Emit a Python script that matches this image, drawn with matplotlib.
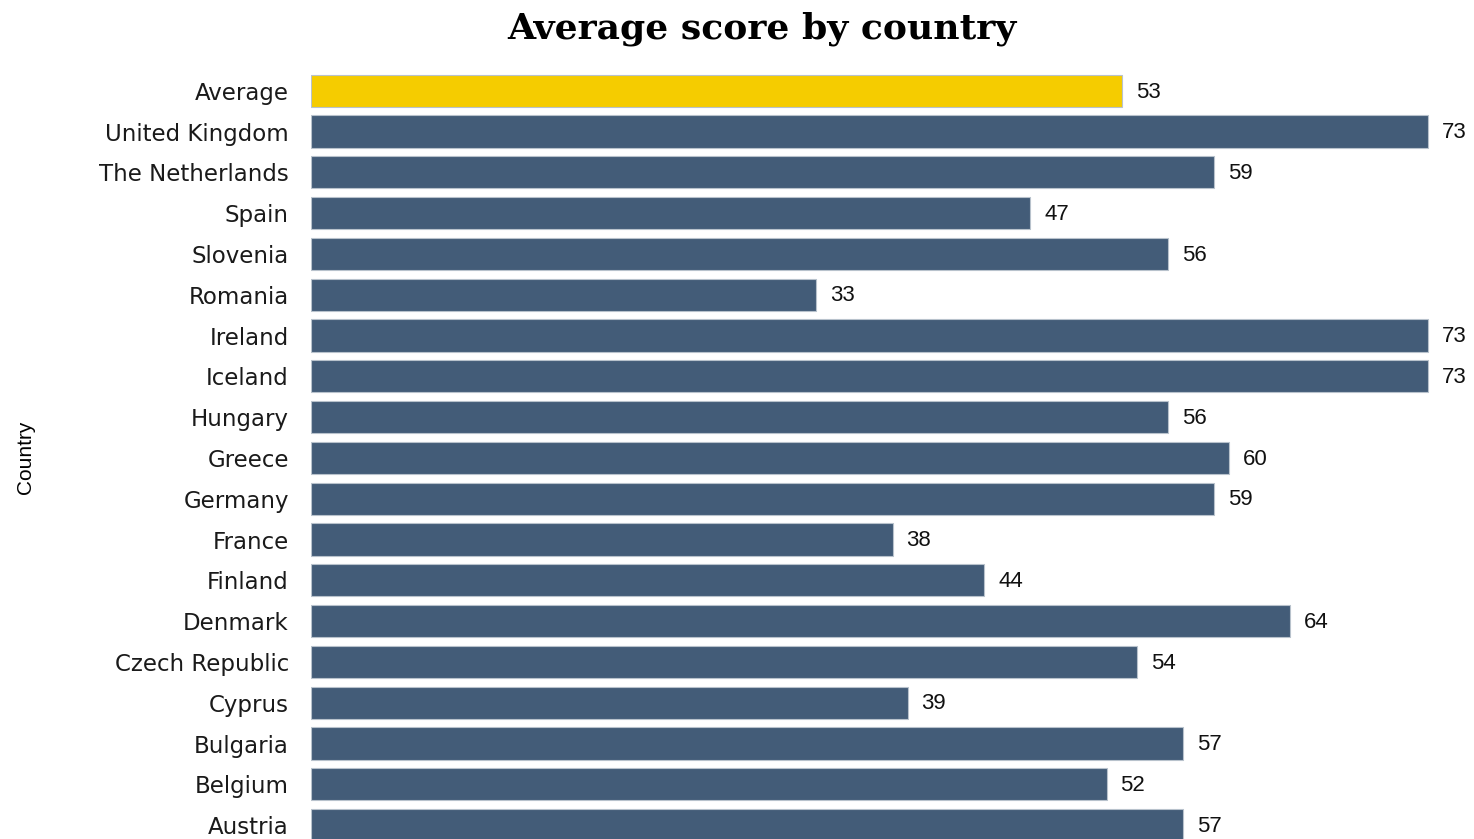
import matplotlib.pyplot as plt

# data, top to bottom
countries = ['Average', 'United Kingdom', 'The Netherlands', 'Spain', 'Slovenia',
             'Romania', 'Ireland', 'Iceland', 'Hungary', 'Greece', 'Germany',
             'France', 'Finland', 'Denmark', 'Czech Republic', 'Cyprus',
             'Bulgaria', 'Belgium', 'Austria']
scores = [53, 73, 59, 47, 56, 33, 73, 73, 56, 60, 59, 38, 44, 64, 54, 39, 57, 52, 57]

GOLD = '#F5CC00'
SLATE = '#435C78'

fig = plt.figure(figsize=(14.74, 8.39), dpi=100)
ax = fig.add_axes([0.211, 0.0, 0.789, 0.9166])

colors = [GOLD if c == 'Average' else SLATE for c in countries]
ypos = list(range(len(countries)))
ax.barh(ypos, scores, height=0.79, color=colors, edgecolor='#b8c2cc', linewidth=0.8)

for y, v in zip(ypos, scores):
    ax.text(v + 0.9, y + 0.03, str(v), va='center', ha='left', fontsize=16,
            family=['Liberation Sans', 'DejaVu Sans'], color='#111111', clip_on=False)

ax.set_xlim(0, 76)
ax.set_ylim(18.34, -0.51)
ax.set_yticks(ypos)
ax.set_yticklabels(countries, fontsize=16.5, color='#1a1a1a')
ax.tick_params(axis='y', length=0, pad=16)
ax.set_xticks([])
for s in ax.spines.values():
    s.set_visible(False)

fig.text(0.517, 0.966, 'Average score by country', ha='center', va='center',
         fontsize=26, fontweight='bold', family=['DejaVu Serif'])
fig.text(0.017, 0.455, 'Country', rotation=90, ha='center', va='center',
         fontsize=15, family=['Liberation Sans Narrow', 'Liberation Sans', 'DejaVu Sans'])

fig.savefig('out.png', dpi=100)
